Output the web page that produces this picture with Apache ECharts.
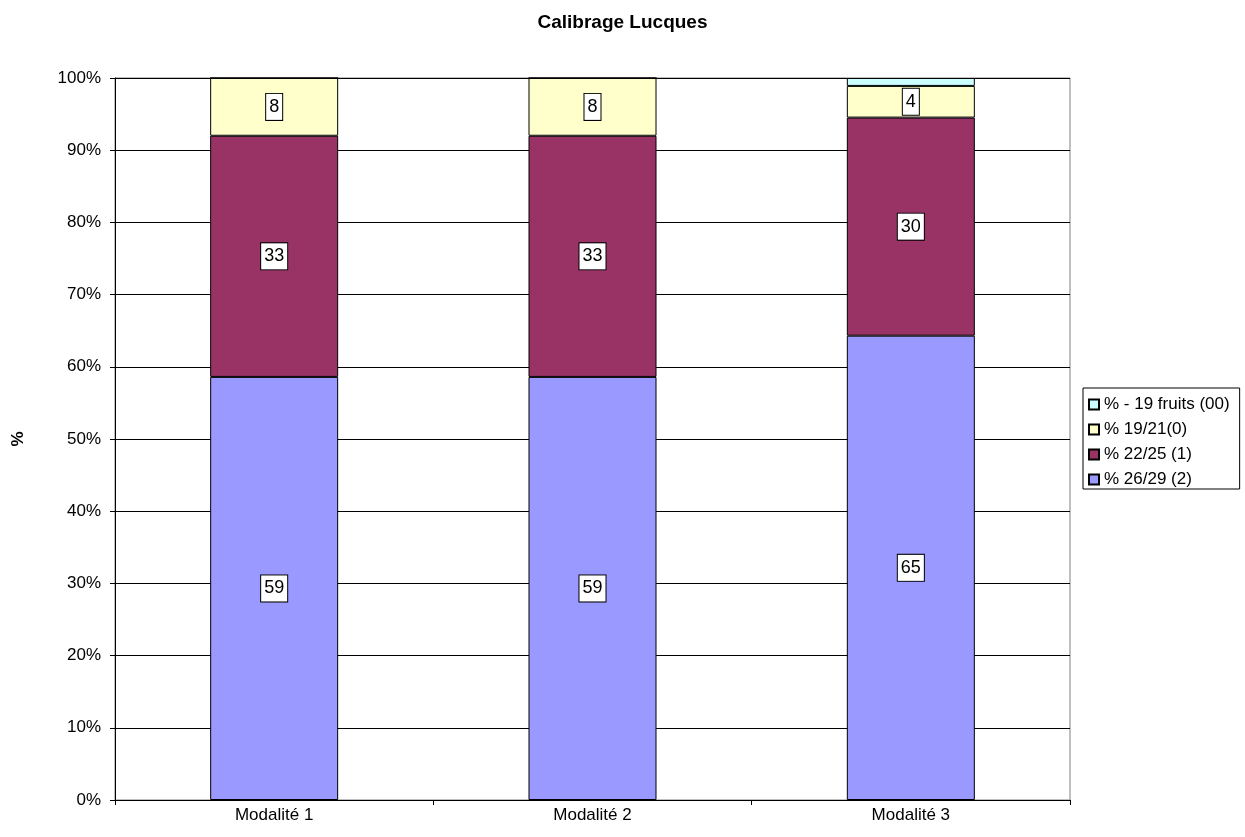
<!DOCTYPE html>
<html>
<head>
<meta charset="utf-8">
<script src="https://cdn.jsdelivr.net/npm/echarts@6/dist/echarts.min.js"></script>
<style>html,body{margin:0;padding:0;background:#fff}#c{width:1245px;height:837px}</style>
</head>
<body>
<div id="c"></div>
<script>
var categories = ['Modalité 1', 'Modalité 2', 'Modalité 3'];
var seriesNames = ['% 26/29 (2)', '% 22/25 (1)', '% 19/21(0)', '% - 19 fruits (00)'];
var s26_29 = [58.6, 58.6, 64.5];
var s22_25 = [33.4, 33.4, 30.3];
var s19_21 = [8.0, 8.0, 4.4];
var sMoins19 = [0, 0, 1.1];
var yTicks = ['0%','10%','20%','30%','40%','50%','60%','70%','80%','90%','100%'];

var raw = [s26_29, s22_25, s19_21, sMoins19];
var colors = ['#9999FF', '#993366', '#FFFFCC', '#CCFFFF'];
var totals = categories.map(function (c, i) {
  return raw.reduce(function (s, arr) { return s + arr[i]; }, 0);
});

var series = raw.map(function (arr, k) {
  return {
    name: seriesNames[k],
    type: 'bar',
    stack: 'total',
    barWidth: 128,
    data: arr.map(function (v, i) { return v / totals[i] * 100; }),
    itemStyle: { color: colors[k], borderColor: '#000', borderWidth: 1 },
    label: {
      show: k < 3,
      position: 'inside',
      formatter: function (p) { return String(Math.round(arr[p.dataIndex] + 1e-9)); },
      color: '#000',
      fontFamily: 'Arial, Liberation Sans, sans-serif',
      fontSize: 18,
      backgroundColor: '#fff',
      borderColor: '#000',
      borderWidth: 1,
      padding: [5, 3, 3, 3]
    },
    emphasis: { disabled: true }
  };
});

var chart = echarts.init(document.getElementById('c'), null, { renderer: 'canvas' });
chart.setOption({
  animation: false,
  backgroundColor: '#fff',
  textStyle: { fontFamily: 'Arial, Liberation Sans, sans-serif' },
  title: {
    text: 'Calibrage Lucques',
    left: 'center',
    top: 8,
    textStyle: { fontSize: 19, fontWeight: 'bold', color: '#000', fontFamily: 'Arial, Liberation Sans, sans-serif' }
  },
  legend: {
    orient: 'vertical',
    left: 1083,
    top: 388,
    data: seriesNames.slice().reverse(),
    itemWidth: 10,
    itemHeight: 10,
    itemGap: 8,
    padding: [8, 10, 1, 5],
    borderColor: '#000',
    borderWidth: 1,
    textStyle: { fontSize: 17, color: '#000', fontFamily: 'Arial, Liberation Sans, sans-serif' },
    icon: 'rect'
  },
  grid: {
    left: 115, right: 175, top: 78, bottom: 37,
    outerBoundsMode: 'none',
    containLabel: false,
    show: true, borderColor: '#808080', borderWidth: 1, backgroundColor: 'transparent'
  },
  xAxis: {
    type: 'category',
    data: categories,
    axisLine: { lineStyle: { color: '#000', width: 1 } },
    axisTick: { show: true, length: 5, lineStyle: { color: '#000' } },
    axisLabel: { color: '#000', fontSize: 17, margin: 7 },
    splitLine: { show: false }
  },
  yAxis: {
    type: 'value',
    min: 0, max: 100, interval: 10,
    name: '%',
    nameLocation: 'middle',
    nameGap: 88,
    nameRotate: 90,
    nameTextStyle: { fontSize: 17, fontWeight: 'bold', color: '#000' },
    axisLine: { show: true, lineStyle: { color: '#000', width: 1 } },
    axisTick: { show: true, length: 5, lineStyle: { color: '#000' } },
    axisLabel: {
      color: '#000', fontSize: 17, margin: 14,
      formatter: function (v) { return yTicks[Math.round(v / 10)]; }
    },
    splitLine: { show: true, lineStyle: { color: '#000', width: 1 } }
  },
  series: series
});
</script>
</body>
</html>
